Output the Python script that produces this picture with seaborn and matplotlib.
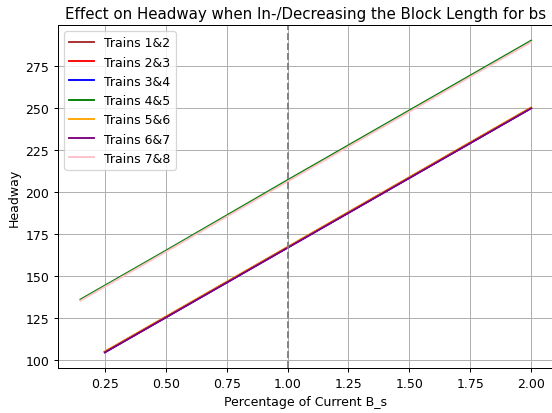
import matplotlib
matplotlib.use("Agg")
import matplotlib.pyplot as plt
import seaborn as sns
import pandas as pd

# Block-length percentages and resulting headways per train pair
pct_upper = [0.15, 0.5, 1.0, 1.5, 2.0]
pct_lower = [0.25, 0.5, 1.0, 1.5, 2.0]

trains_12 = [104.6, 125.4, 167.0, 208.6, 250.2]
trains_23 = [104.6, 125.4, 167.0, 208.6, 250.2]
trains_34 = [104.4, 125.2, 166.8, 208.4, 250.0]
trains_45 = [135.9, 165.0, 207.1, 248.7, 290.3]
trains_56 = [104.9, 125.7, 167.3, 208.9, 250.5]
trains_67 = [104.4, 125.2, 166.8, 208.4, 250.0]
trains_78 = [135.2, 164.3, 206.3, 247.9, 289.5]

series = [
    ("Trains 1&2", pct_lower, trains_12, "brown"),
    ("Trains 2&3", pct_lower, trains_23, "red"),
    ("Trains 3&4", pct_lower, trains_34, "blue"),
    ("Trains 4&5", pct_upper, trains_45, "green"),
    ("Trains 5&6", pct_lower, trains_56, "orange"),
    ("Trains 6&7", pct_lower, trains_67, "purple"),
    ("Trains 7&8", pct_upper, trains_78, "pink"),
]

dpi = 90
fig = plt.figure(figsize=(552 / dpi, 414 / dpi), dpi=dpi)
ax = fig.add_axes([0.105, 0.109, 0.898, 0.828])

for label, xs, ys, color in series:
    df = pd.DataFrame({"pct": xs, "headway": ys})
    sns.lineplot(data=df, x="pct", y="headway", ax=ax, color=color, label=label)

ax.axvline(1.0, color="gray", linestyle="--")
ax.grid(True)
ax.set_title("Effect on Headway when In-/Decreasing the Block Length for bs")
ax.set_xlabel("Percentage of Current B_s")
ax.set_ylabel("Headway")
ax.legend(loc="upper left")

fig.savefig("out.png", dpi=dpi)
